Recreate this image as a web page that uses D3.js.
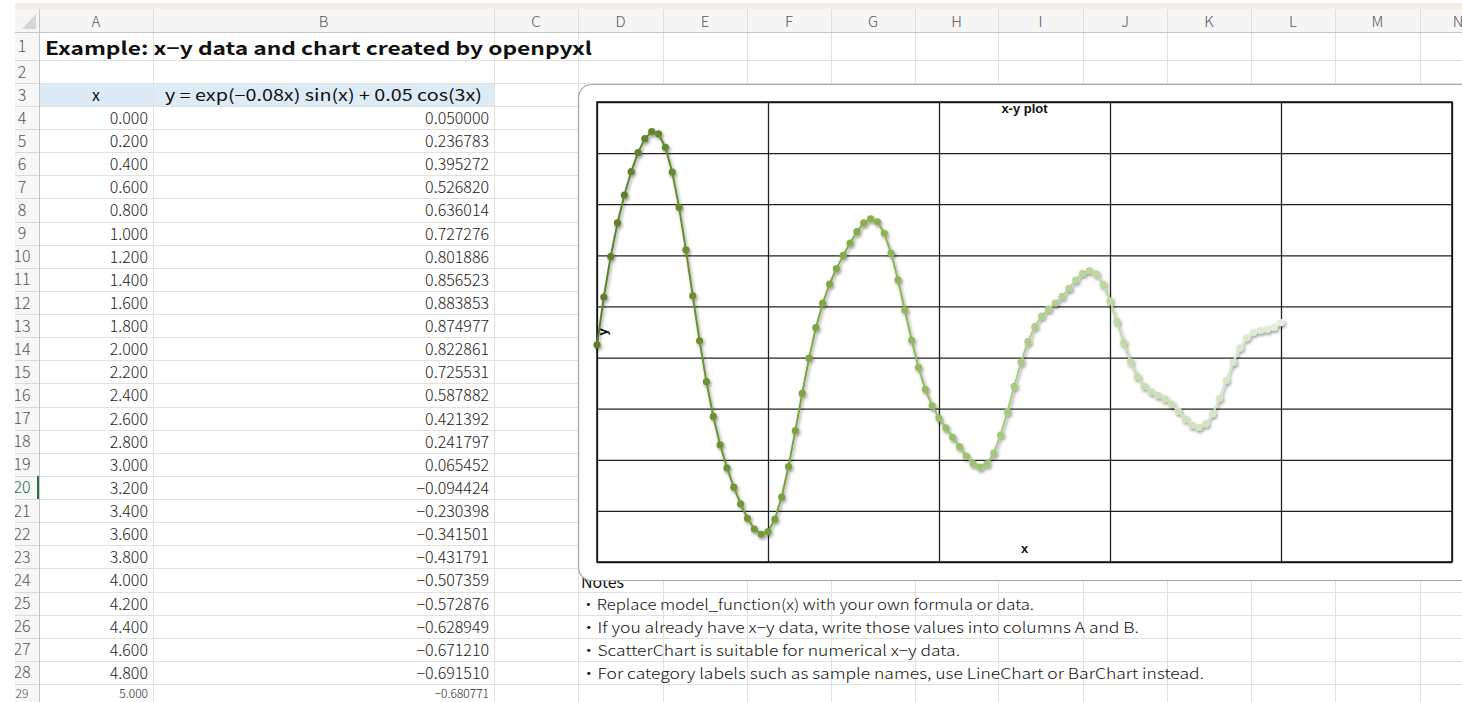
<!DOCTYPE html>
<html>
<head>
<meta charset="utf-8">
<script src="https://cdn.jsdelivr.net/npm/d3@7"></script>
<style>
  html, body { margin: 0; padding: 0; background: #ffffff; }
  svg { display: block; }
  .cell { font-family: "Noto Sans CJK JP", "Noto Sans", sans-serif; }
</style>
</head>
<body>
<svg id="sheet" width="1462" height="702"></svg>
<script>
// ---- data -------------------------------------------------------------
const xValues = [
  0.0, 0.2, 0.4, 0.6, 0.8, 1.0, 1.2, 1.4, 1.6, 1.8,
  2.0, 2.2, 2.4, 2.6, 2.8, 3.0, 3.2, 3.4, 3.6, 3.8,
  4.0, 4.2, 4.4, 4.6, 4.8, 5.0, 5.2, 5.4, 5.6, 5.8,
  6.0, 6.2, 6.4, 6.6, 6.8, 7.0, 7.2, 7.4, 7.6, 7.8,
  8.0, 8.2, 8.4, 8.6, 8.8, 9.0, 9.2, 9.4, 9.6, 9.8,
  10.0, 10.2, 10.4, 10.6, 10.8, 11.0, 11.2, 11.4, 11.6, 11.8,
  12.0, 12.2, 12.4, 12.6, 12.8, 13.0, 13.2, 13.4, 13.6, 13.8,
  14.0, 14.2, 14.4, 14.6, 14.8, 15.0, 15.2, 15.4, 15.6, 15.8,
  16.0, 16.2, 16.4, 16.6, 16.8, 17.0, 17.2, 17.4, 17.6, 17.8,
  18.0, 18.2, 18.4, 18.6, 18.8, 19.0, 19.2, 19.4, 19.6, 19.8,
  20.0
];
const yValues = [
  0.050000, 0.236783, 0.395272, 0.526820, 0.636014, 0.727276, 0.801886, 0.856523, 0.883853, 0.874977,
  0.822861, 0.725531, 0.587882, 0.421392, 0.241797, 0.065452, -0.094424, -0.230398, -0.341501, -0.431791,
  -0.507359, -0.572876, -0.628949, -0.671210, -0.691510, -0.680771, -0.632507, -0.545754, -0.426354, -0.286078,
  -0.139881, -0.002147, 0.116808, 0.212807, 0.287812, 0.347890, 0.399930, 0.448269, 0.492456, 0.526954,
  0.542890, 0.531238, 0.486319, 0.408369, 0.304247, 0.185992, 0.067714, -0.038183, -0.124127, -0.188855,
  -0.236731, -0.275223, -0.311413, -0.348841, -0.385756, -0.415443, -0.428478, -0.416151, -0.373838, -0.303109,
  -0.211848, -0.112267, -0.017512, 0.062017, 0.121362, 0.161842, 0.189743, 0.213364, 0.239485, 0.270493,
  0.303216, 0.329836, 0.340617, 0.327441, 0.286947, 0.222129, 0.141830, 0.058286, -0.016466, -0.074072,
  -0.112056, -0.133993, -0.147627, -0.161588, -0.181930, -0.209645, -0.240100, -0.264540, -0.273184, -0.258777,
  -0.219396, -0.159474, -0.088703, -0.019142, 0.038439, 0.077773, 0.098716, 0.106776, 0.110704, 0.119020,
  0.136700
];
const xTicks = [0, 5, 10, 15, 20, 25];
const yTicks = [-0.8, -0.6, -0.4, -0.2, 0, 0.2, 0.4, 0.6, 0.8, 1.0];
const columnLetters = ["A", "B", "C", "D", "E", "F", "G", "H", "I", "J", "K", "L", "M", "N"];
const sheetTitle = "Example: x\u2212y data and chart created by openpyxl";
const headerX = "x";
const headerY = "y = exp(\u22120.08x) sin(x) + 0.05 cos(3x)";
const chartTitle = "x-y plot";
const xAxisTitle = "x";
const yAxisTitle = "y";
const notesTitle = "Notes";
const notesLines = [
  "\u30FBReplace model_function(x) with your own formula or data.",
  "\u30FBIf you already have x\u2212y data, write those values into columns A and B.",
  "\u30FBScatterChart is suitable for numerical x\u2212y data.",
  "\u30FBFor category labels such as sample names, use LineChart or BarChart instead."
];
const shadeStops = ["#5b7c2c", "#6f9636", "#88b04d", "#a6c97f", "#c6ddb0", "#e2eed9"];

// ---- sheet geometry ---------------------------------------------------
const svg = d3.select("#sheet");
const W = 1462, H = 702;
const left0 = 15;
const colEdges = [15, 39, 153, 494, 578, 663, 747, 831, 915, 998, 1083, 1167, 1251, 1335, 1420, 1504];
const rowH = 23.12;
function rowTop(r) {
  if (r === 0) return 9;
  if (r === 1) return 32;
  if (r === 2) return 60;
  if (r === 3) return 83;
  return 106 + (r - 4) * rowH;
}
function rowBottom(r) { return rowTop(r + 1); }
const lastRow = 29;
// the last row is only partly inside the window: smaller text, lifted to fit
const baseOf = r => (r === lastRow ? H - 4 : rowTop(r) + 18);
const sizeOf = (r, s) => (r === lastRow ? 12 : s);

const sheet = svg.append("g");
sheet.append("rect").attr("x", 0).attr("y", 0).attr("width", W).attr("height", H).attr("fill", "#ffffff");
// ribbon edge
sheet.append("rect").attr("x", left0).attr("y", 3).attr("width", W - left0).attr("height", 6).attr("fill", "#f4efe6");
// column header strip
sheet.append("rect").attr("x", left0).attr("y", 9).attr("width", W - left0).attr("height", 23).attr("fill", "#f5f5f5");
// row header strip
sheet.append("rect").attr("x", left0).attr("y", 32).attr("width", 24).attr("height", H - 32).attr("fill", "#f7f7f7");
// select-all triangle
sheet.append("path").attr("d", "M36,14 L36,29 L22,29 Z").attr("fill", "#d6d6d6");

// header row fill
sheet.append("rect").attr("x", colEdges[1]).attr("y", rowTop(3))
  .attr("width", colEdges[3] - colEdges[1]).attr("height", rowBottom(3) - rowTop(3))
  .attr("fill", "#ddebf7");

// cell gridlines
const grid = sheet.append("g").attr("stroke", "#e1e1e1").attr("stroke-width", 1).attr("shape-rendering", "crispEdges");
for (let r = 1; r <= lastRow; r++) {
  const yy = Math.round(rowBottom(r)) + 0.5;
  grid.append("line").attr("x1", colEdges[1]).attr("x2", W).attr("y1", yy).attr("y2", yy);
  grid.append("line").attr("x1", left0).attr("x2", colEdges[1]).attr("y1", yy).attr("y2", yy).attr("stroke", "#d9d9d9");
}
colEdges.slice(2).forEach(cx => {
  grid.append("line").attr("x1", cx + 0.5).attr("x2", cx + 0.5).attr("y1", 32).attr("y2", H);
  grid.append("line").attr("x1", cx + 0.5).attr("x2", cx + 0.5).attr("y1", 9).attr("y2", 32).attr("stroke", "#dcdcdc");
});
sheet.append("line").attr("x1", left0).attr("x2", W).attr("y1", 32.5).attr("y2", 32.5).attr("stroke", "#c6c6c6");
sheet.append("line").attr("x1", colEdges[1] + 0.5).attr("x2", colEdges[1] + 0.5).attr("y1", 9).attr("y2", H).attr("stroke", "#c6c6c6");

// column letters (the last one runs past the window edge)
columnLetters.forEach((L, i) => {
  const cx = Math.min((colEdges[i + 1] + colEdges[i + 2]) / 2, W - 4);
  sheet.append("text").attr("class", "cell").attr("x", cx).attr("y", 27)
    .attr("text-anchor", "middle").attr("font-size", 15).attr("font-weight", 300)
    .attr("fill", "#555").text(L);
});

// row numbers
svg.append("clipPath").attr("id", "rowClip").append("rect").attr("x", left0).attr("y", 0).attr("width", 24).attr("height", H);
const rowNums = sheet.append("g").attr("clip-path", "url(#rowClip)");
for (let r = 1; r <= lastRow; r++) {
  const mid = (rowTop(r) + rowBottom(r)) / 2;
  rowNums.append("text").attr("class", "cell").attr("x", 22)
    .attr("y", r === lastRow ? baseOf(r) : mid + 6)
    .attr("text-anchor", "middle").attr("font-size", sizeOf(r, 16)).attr("font-weight", 300)
    .attr("fill", r === 20 ? "#217346" : "#555").text(r);
}
sheet.append("rect").attr("x", 37).attr("y", rowTop(20)).attr("width", 2).attr("height", rowH).attr("fill", "#217346");

// title row
sheet.append("text").attr("class", "cell").attr("x", 45).attr("y", 55)
  .attr("font-size", 18).attr("font-weight", 700).attr("fill", "#111")
  .attr("textLength", 547).attr("lengthAdjust", "spacingAndGlyphs").text(sheetTitle);

// column headings
sheet.append("text").attr("class", "cell").attr("x", (colEdges[1] + colEdges[2]) / 2).attr("y", rowTop(3) + 18)
  .attr("text-anchor", "middle").attr("font-size", 16).attr("fill", "#111").text(headerX);
sheet.append("text").attr("class", "cell").attr("x", (colEdges[2] + colEdges[3]) / 2).attr("y", rowTop(3) + 18)
  .attr("text-anchor", "middle").attr("font-size", 16).attr("fill", "#111")
  .attr("textLength", 317).attr("lengthAdjust", "spacingAndGlyphs").text(headerY);

// table values
const fmtX = d3.format(".3f");
const fmtY = v => d3.format(".6f")(v).replace("-", "\u2212");
d3.range(0, 26).forEach(i => {
  const r = 4 + i;
  const base = baseOf(r);
  sheet.append("text").attr("class", "cell").attr("x", colEdges[2] - 5).attr("y", base)
    .attr("text-anchor", "end").attr("font-size", sizeOf(r, 16)).attr("font-weight", 300).attr("fill", "#222")
    .text(fmtX(xValues[i]));
  sheet.append("text").attr("class", "cell").attr("x", colEdges[3] - 5).attr("y", base)
    .attr("text-anchor", "end").attr("font-size", sizeOf(r, 16)).attr("font-weight", 300).attr("fill", "#222")
    .text(fmtY(yValues[i]));
});

// notes
sheet.append("text").attr("class", "cell").attr("x", 581).attr("y", rowTop(24) + 20)
  .attr("font-size", 16).attr("fill", "#111").text(notesTitle);
const noteWidths = [454, 559, 380, 624];
notesLines.forEach((t, i) => {
  sheet.append("text").attr("class", "cell").attr("x", 580).attr("y", rowTop(25 + i) + 18)
    .attr("font-size", 15).attr("font-weight", 300).attr("fill", "#111")
    .attr("textLength", noteWidths[i]).attr("lengthAdjust", "spacingAndGlyphs").text(t);
});

// ---- embedded chart ---------------------------------------------------
const defs = svg.append("defs");
const f = defs.append("filter").attr("id", "soft").attr("x", "-50%").attr("y", "-50%").attr("width", "200%").attr("height", "200%");
f.append("feDropShadow").attr("dx", 1.3).attr("dy", 2).attr("stdDeviation", 1.5)
  .attr("flood-color", "#000").attr("flood-opacity", 0.4);

const chart = svg.append("g");
chart.append("rect").attr("x", 578.5).attr("y", 84.5).attr("width", 920).attr("height", 496)
  .attr("rx", 13).attr("ry", 13).attr("fill", "#ffffff").attr("stroke", "#a6a6a6").attr("stroke-width", 1.2);

const plot = { left: 597, right: 1452, top: 102, bottom: 562 };
const x = d3.scaleLinear().domain([0, 25]).range([plot.left, plot.right]);
const y = d3.scaleLinear().domain([-0.8, 1.0]).range([plot.bottom, plot.top]);

// gridlines drawn with axes
chart.append("g").attr("transform", `translate(0,${plot.bottom})`)
  .call(d3.axisBottom(x).tickValues(xTicks).tickSize(-(plot.bottom - plot.top)).tickFormat(""))
  .call(g => g.select(".domain").remove())
  .call(g => g.selectAll("line").attr("stroke", "#222").attr("stroke-width", 1.3));
chart.append("g").attr("transform", `translate(${plot.left},0)`)
  .call(d3.axisLeft(y).tickValues(yTicks).tickSize(-(plot.right - plot.left)).tickFormat(""))
  .call(g => g.select(".domain").remove())
  .call(g => g.selectAll("line").attr("stroke", "#222").attr("stroke-width", 1.3));
chart.append("rect").attr("x", plot.left).attr("y", plot.top)
  .attr("width", plot.right - plot.left).attr("height", plot.bottom - plot.top)
  .attr("fill", "none").attr("stroke", "#111").attr("stroke-width", 1.5);

// series: per-point shades from dark to light
const n = xValues.length;
const shade = d3.scaleLinear()
  .domain(shadeStops.map((_, i) => i / (shadeStops.length - 1)))
  .range(shadeStops).interpolate(d3.interpolateRgb);
const pts = xValues.map((xv, i) => ({ x: xv, y: yValues[i], c: shade(i / (n - 1)) }));

const series = chart.append("g").attr("filter", "url(#soft)");
series.selectAll("line.seg").data(pts.slice(1)).join("line").attr("class", "seg")
  .attr("x1", (d, i) => x(pts[i].x)).attr("y1", (d, i) => y(pts[i].y))
  .attr("x2", d => x(d.x)).attr("y2", d => y(d.y))
  .attr("stroke", d => d.c).attr("stroke-width", 2).attr("stroke-linecap", "round");
series.selectAll("circle").data(pts).join("circle")
  .attr("cx", d => x(d.x)).attr("cy", d => y(d.y)).attr("r", 3.6)
  .attr("fill", d => d.c);

// titles
chart.append("text").attr("x", (plot.left + plot.right) / 2).attr("y", 113)
  .attr("text-anchor", "middle").attr("font-family", "Liberation Sans, Arial, sans-serif")
  .attr("font-size", 13).attr("font-weight", 700).attr("fill", "#111").text(chartTitle);
chart.append("text").attr("x", (plot.left + plot.right) / 2).attr("y", 553)
  .attr("text-anchor", "middle").attr("font-family", "Liberation Sans, Arial, sans-serif")
  .attr("font-size", 13).attr("font-weight", 700).attr("fill", "#111").text(xAxisTitle);
chart.append("text").attr("transform", `translate(607,${y(0.1)}) rotate(-90)`)
  .attr("text-anchor", "middle").attr("font-family", "Liberation Sans, Arial, sans-serif")
  .attr("font-size", 13).attr("font-weight", 700).attr("fill", "#111").text(yAxisTitle);
</script>
</body>
</html>
